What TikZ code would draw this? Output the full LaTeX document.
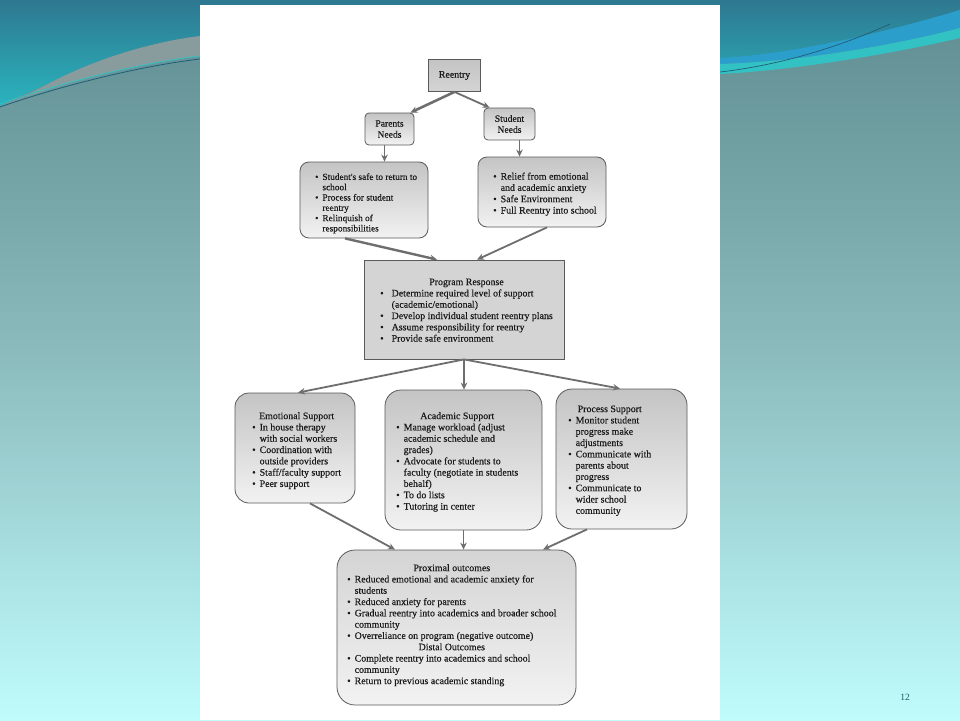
\documentclass[tikz,border=0pt]{standalone}
\usepackage{fontspec}
\setmainfont{Liberation Serif}
\newfontfamily\scanfont[FakeBold=0.35]{Liberation Serif}
\usetikzlibrary{arrows.meta,calc}
\definecolor{ink}{HTML}{1A1A1A}
\definecolor{boxline}{HTML}{5A5A5A}
\definecolor{arrowc}{HTML}{6E6E6E}
\definecolor{bgtop}{HTML}{5E8C90}
\definecolor{bgmid}{HTML}{8CBCBE}
\definecolor{bgbot}{HTML}{C0FCFC}
\definecolor{tealA}{HTML}{2E7890}
\definecolor{tealB}{HTML}{2AB4BE}
\definecolor{arcgray}{HTML}{889C9D}
\definecolor{blueband}{HTML}{2C9ECC}
\definecolor{cyanband}{HTML}{33C2C4}
\definecolor{darkline}{HTML}{1F5D78}
\definecolor{pgnum}{HTML}{1A5866}
\definecolor{gA}{HTML}{C4C4C4}
\definecolor{gB}{HTML}{D4D4D4}
\definecolor{gC}{HTML}{F2F2F2}
\begin{document}
\begin{tikzpicture}[x=1pt,y=-1pt,
  box/.style={draw=boxline,line width=0.8pt,inner sep=0pt},
  sqbox/.style={box,rectangle},
  rbox/.style={box,rounded corners=#1},
  shadebox/.style={top color=gA,bottom color=gC},
  txt/.style={inner sep=0pt,text=ink,font=\scanfont\fontsize{9.9}{11.3}\selectfont},
  arr/.style={draw=arrowc,line width=1.8pt,-{Stealth[length=7pt,width=6.5pt]}}
]
\useasboundingbox (0,0) rectangle (960,720);
% ---------- slide background ----------
\shade[top color=bgtop,bottom color=bgbot,middle color=bgmid] (0,0) rectangle (960,720);
\shade[top color=tealA,bottom color=tealB]
  (0,0) -- (960,0) -- (960,10) .. controls (900,30) and (800,56) .. (720,60)
  -- (200,40) .. controls (120,55) and (40,85) .. (0,106) -- cycle;
\fill[arcgray] (22,99) .. controls (80,62) and (150,42) .. (200,36)
  -- (200,56) .. controls (130,64) and (60,84) .. (6,104) -- cycle;
\draw[darkline,line width=0.8pt] (0,107) .. controls (60,86) and (140,66) .. (200,59);
\draw[cyanband,line width=0.8pt] (0,104) .. controls (60,83) and (140,63) .. (200,56);
\fill[blueband] (720,58) .. controls (800,54) and (900,28) .. (960,10)
  -- (960,28) .. controls (900,44) and (800,62) .. (720,64) -- cycle;
\fill[cyanband] (720,64) .. controls (800,62) and (900,44) .. (960,28)
  -- (960,38) .. controls (900,52) and (800,70) .. (720,74) -- cycle;
\draw[darkline,line width=0.7pt] (720,72) .. controls (790,64) and (850,42) .. (890,24);
% ---------- paper panel ----------
\fill[white] (200,5) rectangle (720,720);
% ---------- boxes ----------
\node[sqbox,minimum width=52pt,minimum height=32pt,top color=gA,bottom color=gB] (reentry) at (454.5,75.5) {};
\node[rbox=4pt,shadebox,minimum width=49pt,minimum height=32pt] (pneeds) at (389.5,129) {};
\node[rbox=4pt,shadebox,minimum width=51pt,minimum height=32pt] (sneeds) at (509.5,124) {};
\node[rbox=9pt,shadebox,minimum width=128pt,minimum height=76pt] (plist) at (364,200) {};
\node[rbox=9pt,shadebox,minimum width=128pt,minimum height=70pt] (slist) at (542,192) {};
\node[sqbox,fill=gB,minimum width=200pt,minimum height=99pt] (pr) at (464,309.5) {};
\node[rbox=14pt,shadebox,minimum width=120pt,minimum height=110pt] (emo) at (295,448) {};
\node[rbox=16pt,shadebox,minimum width=157pt,minimum height=140pt] (acad) at (463.5,460) {};
\node[rbox=16pt,shadebox,minimum width=131pt,minimum height=140pt] (proc) at (621.5,459) {};
\node[rbox=18pt,top color=gB,bottom color=gC,minimum width=239pt,minimum height=155pt] (out) at (456.5,627.5) {};
% ---------- texts ----------
\node[txt] (treentry) at (reentry.center) {Reentry};
\node[txt,align=center,font=\scanfont\fontsize{9.6}{11}\selectfont] (tpneeds) at (pneeds.center) {Parents\\Needs};
\node[txt,align=center,font=\scanfont\fontsize{9.6}{11}\selectfont] (tsneeds) at (sneeds.center) {Student\\Needs};
\node[txt,anchor=north west,font=\scanfont\fontsize{9.3}{10.3}\selectfont] (tplist) at (315,172.5) {%
\begin{tabular}{@{}l@{\hspace{4pt}}l@{}}
\textbullet & Student's safe to return to\\
 & school\\
\textbullet & Process for student\\
 & reentry\\
\textbullet & Relinquish of\\
 & responsibilities
\end{tabular}};
\node[txt,anchor=north west] (tslist) at (493,171.5) {%
\begin{tabular}{@{}l@{\hspace{4pt}}l@{}}
\textbullet & Relief from emotional\\
 & and academic anxiety\\
\textbullet & Safe Environment\\
\textbullet & Full Reentry into school
\end{tabular}};
\node[txt,anchor=north west] (tpr) at (380,277) {%
\begin{tabular}{@{}l@{\hspace{8pt}}l@{}}
\multicolumn{2}{c}{Program Response}\\
\textbullet & Determine required level of support\\
 & (academic/emotional)\\
\textbullet & Develop individual student reentry plans\\
\textbullet & Assume responsibility for reentry\\
\textbullet & Provide safe environment
\end{tabular}};
\node[txt,anchor=north west] (temo) at (252,411) {%
\begin{tabular}{@{}l@{\hspace{4pt}}l@{}}
\multicolumn{2}{c}{Emotional Support}\\
\textbullet & In house therapy\\
 & with social workers\\
\textbullet & Coordination with\\
 & outside providers\\
\textbullet & Staff/faculty support\\
\textbullet & Peer support
\end{tabular}};
\node[txt,anchor=north west] (tacad) at (396,411) {%
\begin{tabular}{@{}l@{\hspace{4pt}}l@{}}
\multicolumn{2}{c}{Academic Support}\\
\textbullet & Manage workload (adjust\\
 & academic schedule and\\
 & grades)\\
\textbullet & Advocate for students to\\
 & faculty (negotiate in students\\
 & behalf)\\
\textbullet & To do lists\\
\textbullet & Tutoring in center
\end{tabular}};
\node[txt,anchor=north west] (tproc) at (568,404) {%
\begin{tabular}{@{}l@{\hspace{4pt}}l@{}}
\multicolumn{2}{c}{Process Support}\\
\textbullet & Monitor student\\
 & progress make\\
 & adjustments\\
\textbullet & Communicate with\\
 & parents about\\
 & progress\\
\textbullet & Communicate to\\
 & wider school\\
 & community
\end{tabular}};
\node[txt,anchor=north west] (tout) at (347,563) {%
\begin{tabular}{@{}l@{\hspace{4pt}}l@{}}
\multicolumn{2}{c}{Proximal outcomes}\\
\textbullet & Reduced emotional and academic anxiety for\\
 & students\\
\textbullet & Reduced anxiety for parents\\
\textbullet & Gradual reentry into academics and broader school\\
 & community\\
\textbullet & Overreliance on program (negative outcome)\\
\multicolumn{2}{c}{Distal Outcomes}\\
\textbullet & Complete reentry into academics and school\\
 & community\\
\textbullet & Return to previous academic standing
\end{tabular}};
% ---------- connectors ----------
\draw[arr,line width=2.6pt] (reentry.south) -- ([xshift=-4pt]pneeds.north east);
\draw[arr] (reentry.south) -- ([xshift=6pt]sneeds.north west);
\draw[arr] ([xshift=-5pt]pneeds.south) -- ([xshift=-5pt]pneeds.south |- plist.north);
\draw[arr] ([xshift=10pt]sneeds.south) -- ([xshift=10pt]sneeds.south |- slist.north);
\draw[arr,line width=2.4pt] ([xshift=-19pt]plist.south) -- ([xshift=-27pt]pr.north);
\draw[arr] ([xshift=5pt]slist.south) -- ([xshift=13pt]pr.north);
\draw[arr] (pr.south) -- ([xshift=3pt]emo.north);
\draw[arr] (pr.south) -- (pr.south |- acad.north);
\draw[arr] (pr.south) -- ([xshift=-1.5pt]proc.north);
\draw[arr] ([xshift=15pt]emo.south) -- ([xshift=-61.5pt]out.north);
\draw[arr] (acad.south) -- (acad.south |- out.north);
\draw[arr] ([xshift=-34.5pt]proc.south) -- ([xshift=86.5pt]out.north);
% ---------- slide number ----------
\node[inner sep=0pt,text=pgnum,font=\fontsize{9.5}{11}\selectfont] (pgno) at (905,697) {12};
\end{tikzpicture}
\end{document}
